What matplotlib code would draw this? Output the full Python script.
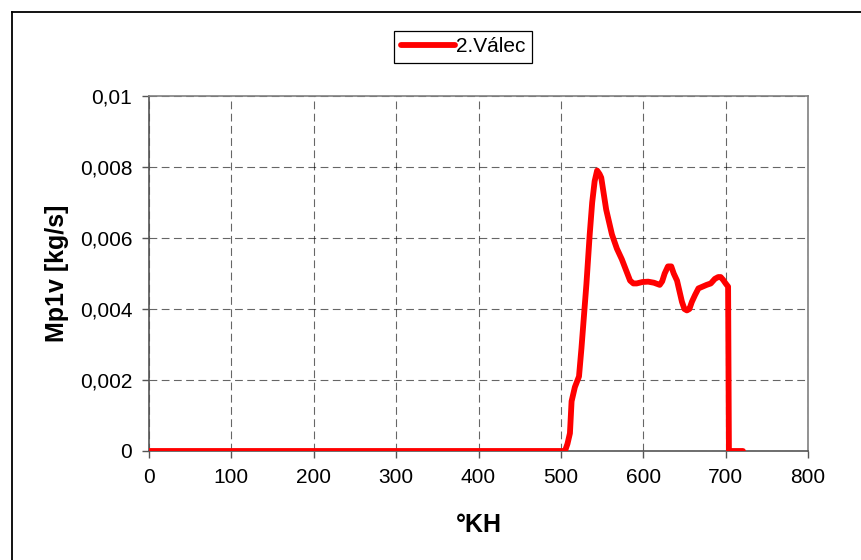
import matplotlib.pyplot as plt
from matplotlib.lines import Line2D

plt.rcParams['font.family'] = ['Liberation Sans', 'DejaVu Sans']

# crank angle [deg] and mass flow [kg/s]
kh = [0, 100, 200, 300, 400, 500, 505, 508, 511, 513, 517, 522, 525, 528, 531,
      535, 538, 541, 544, 547, 549, 551, 555, 562, 568, 574, 579, 584, 588,
      592, 599, 606, 613, 620, 623, 626, 630, 634, 637, 641, 644, 647, 650,
      653, 656, 659, 663, 667, 672, 677, 682, 687, 691, 694, 697, 700, 703,
      704, 710, 721]
mp1v = [0, 0, 0, 0, 0, 0, 0, 0.0002, 0.0005, 0.0014, 0.0018, 0.0021, 0.0029,
        0.0038, 0.0047, 0.0061, 0.0070, 0.0076, 0.0079, 0.0078, 0.0077,
        0.0074, 0.0068, 0.0061, 0.0057, 0.0054, 0.0051, 0.0048, 0.00472,
        0.00472, 0.00476, 0.00477, 0.00474, 0.00468, 0.00478, 0.0050, 0.0052,
        0.0052, 0.0050, 0.0048, 0.0045, 0.0042, 0.0040, 0.00396, 0.0040,
        0.0042, 0.0044, 0.00458, 0.00463, 0.00468, 0.00472, 0.00485, 0.0049,
        0.0049, 0.00482, 0.00472, 0.00463, 0, 0, 0]

x_ticks = [0, 100, 200, 300, 400, 500, 600, 700, 800]
y_ticks = [0, 0.002, 0.004, 0.006, 0.008, 0.01]
y_labels = ['0', '0,002', '0,004', '0,006', '0,008', '0,01']

fig = plt.figure(figsize=(8.61, 5.6), dpi=100)
ax = fig.add_axes([149 / 861, 1 - 451 / 560, 659 / 861, 355 / 560])

# outer chart frame (cut off at right/bottom like in the source)
fig.add_artist(Line2D([12 / 861, 12 / 861], [0, 1 - 12 / 560], color='black', lw=1.3))
fig.add_artist(Line2D([12 / 861, 1], [1 - 12 / 560, 1 - 12 / 560], color='black', lw=1.3))

ax.plot(kh, mp1v, color='#ff0000', lw=4.2, solid_joinstyle='round',
        solid_capstyle='round', label='2.Válec', zorder=3)

ax.set_xlim(0, 800)
ax.set_ylim(0, 0.01)
ax.set_xticks(x_ticks)
ax.set_yticks(y_ticks)
ax.set_yticklabels(y_labels)
ax.grid(True, color='black', ls=(0, (7, 4)), lw=0.8, alpha=0.6)
ax.set_axisbelow(True)
for s in ax.spines.values():
    s.set_color('#808080')
    s.set_linewidth(1.2)
ax.spines['left'].set_color('#555555')
ax.spines['bottom'].set_color('#555555')
ax.tick_params(direction='out', length=5, width=1, color='#555555',
               labelsize=15, pad=7)

ax.set_xlabel('°KH', fontsize=18, fontweight='bold', labelpad=19)
ax.set_ylabel('Mp1v [kg/s]', fontsize=18, fontweight='bold', labelpad=8)

leg = ax.legend(loc='center', bbox_to_anchor=(463 / 861, 1 - 47 / 560),
                bbox_transform=fig.transFigure, fontsize=15, fancybox=False,
                framealpha=1, edgecolor='black', handlelength=2.6,
                handletextpad=0.05, borderpad=0.3, borderaxespad=0)
leg.get_frame().set_linewidth(0.9)

fig.savefig('out.png', dpi=100)
